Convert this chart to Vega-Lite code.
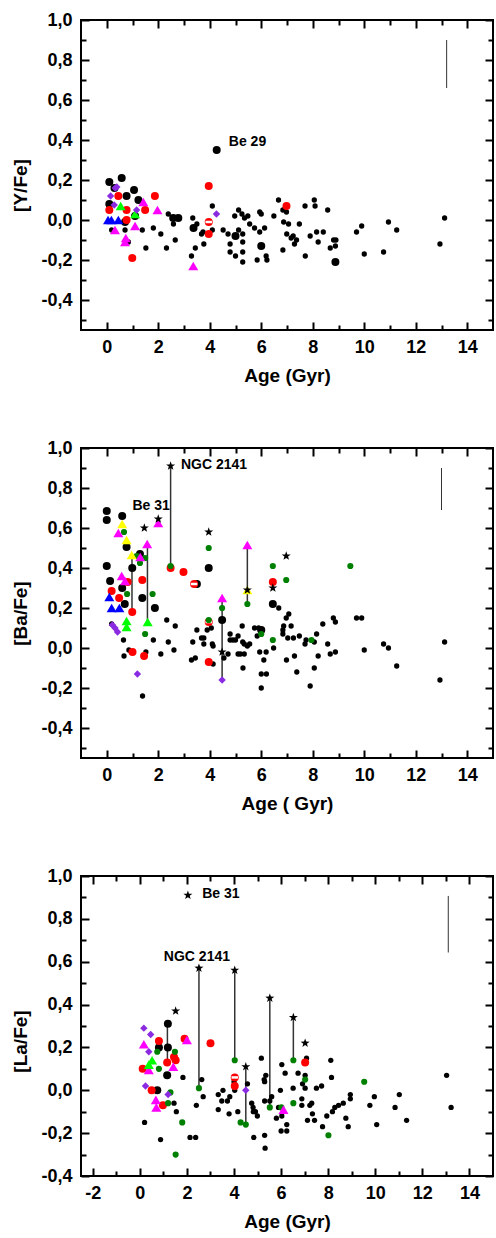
{
"$schema":"https://vega.github.io/schema/vega-lite/v6.json",
"padding":{"left":10,"top":10,"right":0,"bottom":0},
"spacing":52,
"config":{
 "view":{"stroke":"black","strokeWidth":2},
 "axis":{"labelFont":"Liberation Sans","labelFontWeight":"bold","labelFontSize":18,"labelColor":"black","titleFont":"Liberation Sans","titleFontWeight":"bold","titleFontSize":19,"titleColor":"black","domain":false,"ticks":false,"grid":true,"gridColor":"black","gridWidth":2,"gridOpacity":1,"labelOverlap":false,"labelFlush":false},
 "text":{"font":"Liberation Sans","fontWeight":"bold","fontSize":14,"align":"left","baseline":"middle","color":"black"}
},
"datasets":{
 "p1err":[{"a":13.2,"v":0.66,"v2":0.9}],
 "p1dot":[{"a":0.19,"v":-0.05},{"a":0.71,"v":-0.05},{"a":0.84,"v":-0.11},{"a":1.38,"v":-0.05},{"a":1.52,"v":-0.14},{"a":1.81,"v":-0.04},{"a":2.1,"v":-0.07},{"a":2.32,"v":-0.14},{"a":2.39,"v":0.03},{"a":2.59,"v":-0.02},{"a":2.66,"v":-0.1},{"a":3.29,"v":-0.18},{"a":3.34,"v":0.01},{"a":3.44,"v":-0.14},{"a":3.5,"v":-0.02},{"a":3.68,"v":-0.07},{"a":3.77,"v":-0.12},{"a":3.74,"v":-0.06},{"a":4.1,"v":0.07},{"a":4.1,"v":-0.05},{"a":4.52,"v":-0.05},{"a":4.71,"v":-0.07},{"a":4.79,"v":-0.12},{"a":4.79,"v":-0.16},{"a":5.0,"v":-0.18},{"a":4.97,"v":0.02},{"a":5.12,"v":0.05},{"a":5.12,"v":-0.05},{"a":5.28,"v":-0.07},{"a":5.28,"v":-0.11},{"a":5.28,"v":-0.16},{"a":5.28,"v":-0.21},{"a":5.25,"v":0.03},{"a":5.35,"v":0.01},{"a":5.48,"v":0.02},{"a":5.55,"v":-0.02},{"a":5.74,"v":-0.04},{"a":5.84,"v":-0.2},{"a":5.94,"v":0.04},{"a":6.0,"v":0.03},{"a":5.94,"v":-0.06},{"a":6.13,"v":-0.04},{"a":6.19,"v":-0.18},{"a":6.22,"v":-0.2},{"a":6.49,"v":0.02},{"a":6.67,"v":0.1},{"a":6.84,"v":0.05},{"a":6.98,"v":0.04},{"a":6.84,"v":-0.15},{"a":6.87,"v":-0.01},{"a":6.99,"v":-0.07},{"a":7.06,"v":-0.02},{"a":7.16,"v":-0.09},{"a":7.24,"v":-0.08},{"a":7.29,"v":-0.12},{"a":7.37,"v":-0.1},{"a":7.48,"v":-0.02},{"a":7.7,"v":0.07},{"a":7.71,"v":-0.18},{"a":7.9,"v":-0.08},{"a":8.06,"v":0.1},{"a":8.09,"v":0.07},{"a":8.15,"v":-0.06},{"a":8.21,"v":-0.11},{"a":8.41,"v":-0.06},{"a":8.58,"v":0.05},{"a":8.68,"v":-0.14},{"a":8.81,"v":-0.1},{"a":8.9,"v":-0.1},{"a":8.88,"v":-0.13},{"a":9.7,"v":-0.06},{"a":9.9,"v":-0.03},{"a":10.0,"v":-0.17},{"a":10.75,"v":-0.16},{"a":10.94,"v":-0.01},{"a":11.26,"v":-0.05},{"a":12.94,"v":-0.12},{"a":13.12,"v":0.01}],
 "p1big":[{"a":0.1,"v":0.19},{"a":0.58,"v":0.21},{"a":1.06,"v":0.15},{"a":0.77,"v":0.12},{"a":1.23,"v":0.1},{"a":0.1,"v":0.08},{"a":0.71,"v":-0.01},{"a":1.1,"v":0.02},{"a":2.58,"v":0.01},{"a":2.78,"v":0.01},{"a":3.37,"v":-0.04},{"a":4.27,"v":0.35},{"a":5.0,"v":-0.08},{"a":6.0,"v":-0.13},{"a":8.88,"v":-0.21},{"a":0.3,"v":0.16}],
 "p1red":[{"a":0.1,"v":0.05},{"a":0.45,"v":0.12},{"a":0.77,"v":0.05},{"a":0.77,"v":0.0},{"a":0.99,"v":-0.19},{"a":1.49,"v":0.05},{"a":1.87,"v":0.12},{"a":3.96,"v":0.17},{"a":3.96,"v":-0.07},{"a":6.98,"v":0.07},{"a":3.96,"v":-0.01}],
 "p1half":[{"a":3.96,"v":-0.01}],
 "p1mag":[{"a":0.32,"v":-0.05},{"a":0.74,"v":-0.09},{"a":0.71,"v":-0.11},{"a":1.1,"v":-0.03},{"a":1.42,"v":0.09},{"a":1.97,"v":0.05},{"a":3.36,"v":-0.23}],
 "p1blue":[{"a":0.05,"v":0.0},{"a":0.18,"v":0.0},{"a":0.45,"v":0.0}],
 "p1lg":[{"a":0.54,"v":0.07},{"a":1.1,"v":0.03}],
 "p1pur":[{"a":0.15,"v":0.12},{"a":0.33,"v":0.16},{"a":0.39,"v":0.165},{"a":0.29,"v":0.075},{"a":1.16,"v":0.05},{"a":4.26,"v":0.03}],
 "p1lab":[{"a":4.74,"v":0.39,"txt":"Be 29"}],
 "p2rule":[{"a":0.98,"v":0.465,"v2":0.18},{"a":1.58,"v":0.52,"v2":0.13},{"a":2.48,"v":0.91,"v2":0.41},{"a":4.48,"v":0.25,"v2":-0.16},{"a":5.46,"v":0.515,"v2":0.22}],
 "p2err":[{"a":13.0,"v":0.69,"v2":0.9}],
 "p2dot":[{"a":0.19,"v":0.12},{"a":0.65,"v":0.04},{"a":0.67,"v":-0.04},{"a":0.86,"v":-0.01},{"a":1.39,"v":-0.24},{"a":1.52,"v":-0.02},{"a":1.81,"v":0.04},{"a":2.1,"v":-0.03},{"a":2.33,"v":0.14},{"a":2.39,"v":0.03},{"a":2.61,"v":-0.01},{"a":2.66,"v":0.11},{"a":3.29,"v":-0.06},{"a":3.34,"v":0.03},{"a":3.44,"v":-0.05},{"a":3.5,"v":0.09},{"a":3.68,"v":0.05},{"a":3.77,"v":0.05},{"a":3.77,"v":0.02},{"a":3.9,"v":0.09},{"a":4.06,"v":0.1},{"a":4.1,"v":0.02},{"a":4.13,"v":0.01},{"a":4.13,"v":-0.08},{"a":4.55,"v":-0.05},{"a":4.71,"v":-0.03},{"a":4.79,"v":0.07},{"a":4.79,"v":0.04},{"a":4.9,"v":0.04},{"a":5.0,"v":0.04},{"a":5.1,"v":0.06},{"a":5.1,"v":-0.03},{"a":5.19,"v":-0.03},{"a":5.26,"v":0.11},{"a":5.28,"v":0.03},{"a":5.34,"v":-0.03},{"a":5.29,"v":-0.1},{"a":5.34,"v":0.02},{"a":5.46,"v":0.01},{"a":5.55,"v":0.02},{"a":5.74,"v":0.1},{"a":5.84,"v":0.06},{"a":5.9,"v":0.1},{"a":5.94,"v":-0.02},{"a":6.0,"v":-0.13},{"a":6.0,"v":-0.2},{"a":6.1,"v":-0.06},{"a":6.19,"v":-0.02},{"a":6.2,"v":-0.13},{"a":6.48,"v":0.0},{"a":6.68,"v":0.2},{"a":6.84,"v":0.07},{"a":6.84,"v":0.09},{"a":6.87,"v":0.11},{"a":6.97,"v":0.15},{"a":7.07,"v":0.17},{"a":6.98,"v":-0.06},{"a":7.03,"v":0.05},{"a":7.16,"v":0.11},{"a":7.25,"v":0.05},{"a":7.29,"v":-0.04},{"a":7.38,"v":-0.12},{"a":7.48,"v":0.06},{"a":7.7,"v":0.02},{"a":7.74,"v":0.04},{"a":7.9,"v":-0.19},{"a":8.06,"v":0.03},{"a":8.06,"v":-0.1},{"a":8.15,"v":0.07},{"a":8.21,"v":-0.04},{"a":8.39,"v":0.12},{"a":8.58,"v":0.02},{"a":8.68,"v":-0.03},{"a":8.8,"v":0.15},{"a":8.88,"v":0.13},{"a":8.88,"v":-0.02},{"a":9.7,"v":0.15},{"a":9.9,"v":0.15},{"a":10.0,"v":-0.01},{"a":10.75,"v":0.02},{"a":10.94,"v":0.0},{"a":11.26,"v":-0.09},{"a":12.94,"v":-0.16},{"a":13.12,"v":0.03}],
 "p2big":[{"a":0.0,"v":0.685},{"a":0.0,"v":0.64},{"a":0.6,"v":0.66},{"a":0.0,"v":0.41},{"a":0.13,"v":0.335},{"a":0.6,"v":0.3},{"a":0.7,"v":0.22},{"a":0.77,"v":0.505},{"a":0.99,"v":0.4},{"a":1.29,"v":0.47},{"a":1.38,"v":0.25},{"a":1.87,"v":0.2},{"a":3.5,"v":0.32},{"a":3.96,"v":0.4},{"a":4.48,"v":0.14},{"a":6.0,"v":0.09},{"a":6.45,"v":0.22}],
 "p2red":[{"a":0.19,"v":0.285},{"a":0.48,"v":0.25},{"a":0.81,"v":0.33},{"a":0.99,"v":0.18},{"a":1.0,"v":-0.02},{"a":1.38,"v":0.34},{"a":1.45,"v":-0.04},{"a":2.48,"v":0.4},{"a":2.98,"v":0.38},{"a":3.96,"v":-0.07},{"a":6.45,"v":0.33},{"a":3.39,"v":0.32},{"a":3.96,"v":0.13}],
 "p2half":[{"a":3.39,"v":0.32},{"a":3.96,"v":0.13}],
 "p2dg":[{"a":0.67,"v":0.58},{"a":0.79,"v":0.27},{"a":1.16,"v":0.46},{"a":1.29,"v":0.425},{"a":1.49,"v":0.45},{"a":1.49,"v":0.07},{"a":1.78,"v":0.27},{"a":2.48,"v":0.41},{"a":3.96,"v":0.5},{"a":3.96,"v":0.14},{"a":4.48,"v":0.2},{"a":5.46,"v":0.22},{"a":6.0,"v":0.07},{"a":6.45,"v":0.41},{"a":6.45,"v":0.04},{"a":6.97,"v":0.34},{"a":7.95,"v":0.04},{"a":9.46,"v":0.41}],
 "p2mag":[{"a":0.45,"v":0.575},{"a":0.58,"v":0.36},{"a":0.71,"v":0.335},{"a":1.3,"v":0.455},{"a":1.57,"v":0.52},{"a":2.0,"v":0.625},{"a":4.48,"v":0.25},{"a":5.46,"v":0.515}],
 "p2yel":[{"a":0.6,"v":0.62},{"a":0.77,"v":0.54},{"a":0.97,"v":0.465},{"a":5.46,"v":0.29}],
 "p2lg":[{"a":0.77,"v":0.135},{"a":0.77,"v":0.105},{"a":1.59,"v":0.13}],
 "p2blue":[{"a":0.1,"v":0.255},{"a":0.19,"v":0.2},{"a":0.49,"v":0.2}],
 "p2pur":[{"a":0.22,"v":0.115},{"a":0.32,"v":0.1},{"a":0.42,"v":0.08},{"a":1.19,"v":-0.13},{"a":4.48,"v":-0.16}],
 "p2star":[{"a":2.48,"v":0.91},{"a":1.46,"v":0.6},{"a":2.0,"v":0.645},{"a":3.96,"v":0.58},{"a":4.48,"v":-0.02},{"a":5.46,"v":0.29},{"a":6.45,"v":0.3},{"a":6.97,"v":0.46}],
 "p2lab":[{"a":2.88,"v":0.916,"txt":"NGC 2141"},{"a":1.0,"v":0.71,"txt":"Be 31"}],
 "p3rule":[{"a":1.17,"v":0.31,"v2":0.13},{"a":2.51,"v":0.57,"v2":0.01},{"a":4.03,"v":0.56,"v2":0.14},{"a":4.5,"v":0.11,"v2":-0.16},{"a":5.52,"v":0.43,"v2":-0.08},{"a":6.52,"v":0.34,"v2":0.14}],
 "p3err":[{"a":13.1,"v":0.643,"v2":0.907}],
 "p3dot":[{"a":0.2,"v":-0.15},{"a":0.88,"v":-0.23},{"a":1.45,"v":-0.06},{"a":1.55,"v":-0.1},{"a":1.83,"v":0.06},{"a":2.13,"v":-0.22},{"a":2.37,"v":-0.22},{"a":2.4,"v":-0.07},{"a":2.63,"v":0.05},{"a":2.69,"v":-0.03},{"a":3.33,"v":-0.02},{"a":3.33,"v":-0.09},{"a":3.48,"v":-0.05},{"a":3.53,"v":0.0},{"a":3.72,"v":-0.05},{"a":3.79,"v":-0.11},{"a":3.82,"v":-0.03},{"a":4.0,"v":0.04},{"a":4.03,"v":0.0},{"a":4.16,"v":-0.1},{"a":4.57,"v":0.03},{"a":4.75,"v":-0.06},{"a":4.81,"v":-0.08},{"a":4.82,"v":-0.1},{"a":4.84,"v":-0.22},{"a":4.91,"v":-0.1},{"a":4.99,"v":-0.12},{"a":5.16,"v":0.15},{"a":5.28,"v":0.05},{"a":5.3,"v":0.04},{"a":5.35,"v":0.07},{"a":5.3,"v":-0.05},{"a":5.3,"v":-0.21},{"a":5.32,"v":-0.27},{"a":5.52,"v":-0.05},{"a":5.6,"v":-0.03},{"a":5.8,"v":-0.13},{"a":5.89,"v":-0.08},{"a":5.97,"v":0.0},{"a":6.03,"v":0.12},{"a":6.03,"v":-0.12},{"a":6.0,"v":-0.19},{"a":6.17,"v":0.08},{"a":6.24,"v":-0.16},{"a":6.24,"v":-0.19},{"a":6.51,"v":0.01},{"a":6.72,"v":0.08},{"a":6.88,"v":-0.04},{"a":6.88,"v":-0.07},{"a":6.91,"v":0.03},{"a":7.02,"v":0.07},{"a":7.08,"v":0.15},{"a":7.02,"v":0.01},{"a":7.12,"v":-0.14},{"a":7.22,"v":-0.07},{"a":7.3,"v":-0.06},{"a":7.33,"v":-0.11},{"a":7.42,"v":-0.14},{"a":7.5,"v":0.01},{"a":7.72,"v":0.02},{"a":7.76,"v":-0.17},{"a":7.94,"v":-0.12},{"a":8.11,"v":0.14},{"a":8.14,"v":0.06},{"a":8.18,"v":-0.1},{"a":8.28,"v":-0.08},{"a":8.44,"v":-0.07},{"a":8.64,"v":-0.06},{"a":8.75,"v":-0.13},{"a":8.85,"v":-0.17},{"a":8.94,"v":-0.02},{"a":8.94,"v":-0.04},{"a":9.77,"v":-0.07},{"a":9.96,"v":-0.03},{"a":10.06,"v":-0.16},{"a":10.84,"v":-0.08},{"a":11.02,"v":-0.02},{"a":11.33,"v":-0.14},{"a":13.03,"v":0.07},{"a":13.22,"v":-0.08}],
 "p3big":[{"a":0.81,"v":0.2},{"a":1.19,"v":0.31},{"a":1.19,"v":0.2},{"a":1.16,"v":0.07},{"a":0.74,"v":0.0}],
 "p3red":[{"a":0.12,"v":0.1},{"a":0.5,"v":0.0},{"a":0.81,"v":0.23},{"a":0.98,"v":-0.07},{"a":1.16,"v":0.13},{"a":1.45,"v":0.155},{"a":1.52,"v":0.14},{"a":1.9,"v":0.24},{"a":3.0,"v":0.22},{"a":4.03,"v":0.02},{"a":7.02,"v":0.13},{"a":4.03,"v":0.06}],
 "p3half":[{"a":4.03,"v":0.06}],
 "p3dg":[{"a":0.74,"v":0.18},{"a":0.81,"v":0.1},{"a":1.49,"v":0.18},{"a":1.3,"v":-0.01},{"a":1.2,"v":-0.06},{"a":1.8,"v":-0.15},{"a":1.52,"v":-0.3},{"a":2.51,"v":0.01},{"a":4.03,"v":0.14},{"a":4.28,"v":-0.15},{"a":4.5,"v":-0.16},{"a":5.52,"v":-0.08},{"a":6.01,"v":-0.08},{"a":6.52,"v":0.14},{"a":6.52,"v":-0.06},{"a":7.02,"v":0.05},{"a":8.01,"v":-0.21},{"a":9.53,"v":0.04}],
 "p3mag":[{"a":0.17,"v":0.215},{"a":0.38,"v":0.095},{"a":0.68,"v":-0.045},{"a":0.7,"v":-0.08},{"a":1.42,"v":0.11},{"a":2.0,"v":0.235},{"a":6.1,"v":-0.09}],
 "p3lg":[{"a":0.38,"v":0.12},{"a":0.52,"v":0.14}],
 "p3pur":[{"a":0.17,"v":0.29},{"a":0.46,"v":0.26},{"a":0.38,"v":0.18},{"a":0.24,"v":0.02},{"a":1.2,"v":-0.02},{"a":4.5,"v":0.0}],
 "p3star":[{"a":2.04,"v":0.91},{"a":1.52,"v":0.37},{"a":2.51,"v":0.57},{"a":4.03,"v":0.56},{"a":4.5,"v":0.11},{"a":5.52,"v":0.43},{"a":6.52,"v":0.34},{"a":7.02,"v":0.22}],
 "p3lab":[{"a":2.65,"v":0.915,"txt":"Be 31"},{"a":1.02,"v":0.623,"txt":"NGC 2141"}]
},
"vconcat":[
{
 "width":412,"height":310,
 "resolve":{"axis":{"x":"independent","y":"independent"}},
 "layer":[
  {"data":{"name":"p1err"},"mark":{"type":"rule","color":"#333","strokeWidth":1},
   "encoding":{
    "x":{"field":"a","type":"quantitative","scale":{"domain":[-1,15],"nice":false,"zero":false},
     "axis":{"orient":"bottom","values":[0,1,2,3,4,5,6,7,8,9,10,11,12,13,14],"title":"Age (Gyr)","labelPadding":8,"titlePadding":10,
      "gridDash":{"condition":{"test":"abs(round(datum.value)) % 2 == 1","value":[5,300,5]},"value":[8,294,8]},
      "labelExpr":"abs(round(datum.value)) % 2 == 1 ? '' : format(datum.value,'d')"}},
    "y":{"field":"v","type":"quantitative","scale":{"domain":[-0.55,1],"nice":false,"zero":false},
     "axis":{"orient":"left","values":[-0.5,-0.4,-0.3,-0.2,-0.1,0,0.1,0.2,0.3,0.4,0.5,0.6,0.7,0.8,0.9,1.0],"title":"[Y/Fe]","labelPadding":9,"titlePadding":10,"titleY":165,
      "gridDash":{"condition":{"test":"abs(round(datum.value*10)) % 2 == 1","value":[5,402,5]},"value":[8,396,8]},
      "labelExpr":"abs(round(datum.value*10)) % 2 == 1 ? '' : replace(replace(format(datum.value,'.1f'),'.',','),'−','-')"}},
    "y2":{"field":"v2"}}},
  {"data":{"name":"p1dot"},"mark":{"type":"point","filled":true,"opacity":1,"shape":"circle","color":"black","size":28},"encoding":{"x":{"field":"a","type":"quantitative","axis":null},"y":{"field":"v","type":"quantitative","axis":null}}},
  {"data":{"name":"p1big"},"mark":{"type":"point","filled":true,"opacity":1,"shape":"circle","color":"black","size":64},"encoding":{"x":{"field":"a","type":"quantitative","axis":null},"y":{"field":"v","type":"quantitative","axis":null}}},
  {"data":{"name":"p1red"},"mark":{"type":"point","filled":true,"opacity":1,"shape":"circle","color":"#FF0000","size":64},"encoding":{"x":{"field":"a","type":"quantitative","axis":null},"y":{"field":"v","type":"quantitative","axis":null}}},
  {"data":{"name":"p1half"},"mark":{"type":"point","filled":false,"opacity":1,"shape":"stroke","color":"white","strokeWidth":2.5,"size":42},"encoding":{"x":{"field":"a","type":"quantitative","axis":null},"y":{"field":"v","type":"quantitative","axis":null}}},
  {"data":{"name":"p1mag"},"mark":{"type":"point","filled":true,"opacity":1,"shape":"triangle-up","color":"#FF00FF","size":100},"encoding":{"x":{"field":"a","type":"quantitative","axis":null},"y":{"field":"v","type":"quantitative","axis":null}}},
  {"data":{"name":"p1blue"},"mark":{"type":"point","filled":true,"opacity":1,"shape":"triangle-up","color":"#0000FF","size":100},"encoding":{"x":{"field":"a","type":"quantitative","axis":null},"y":{"field":"v","type":"quantitative","axis":null}}},
  {"data":{"name":"p1lg"},"mark":{"type":"point","filled":true,"opacity":1,"shape":"triangle-up","color":"#00FF00","size":100},"encoding":{"x":{"field":"a","type":"quantitative","axis":null},"y":{"field":"v","type":"quantitative","axis":null}}},
  {"data":{"name":"p1pur"},"mark":{"type":"point","filled":true,"opacity":1,"shape":"diamond","color":"#8A2BE2","size":55},"encoding":{"x":{"field":"a","type":"quantitative","axis":null},"y":{"field":"v","type":"quantitative","axis":null}}},
  {"data":{"name":"p1lab"},"mark":{"type":"text"},"encoding":{"x":{"field":"a","type":"quantitative","axis":null},"y":{"field":"v","type":"quantitative","axis":null},"text":{"field":"txt"}}}
 ]
},
{
 "width":412,"height":310,
 "resolve":{"axis":{"x":"independent","y":"independent"}},
 "layer":[
  {"data":{"name":"p2err"},"mark":{"type":"rule","color":"#333","strokeWidth":1},
   "encoding":{
    "x":{"field":"a","type":"quantitative","scale":{"domain":[-1,15],"nice":false,"zero":false},
     "axis":{"orient":"bottom","values":[0,1,2,3,4,5,6,7,8,9,10,11,12,13,14],"title":"Age ( Gyr)","labelPadding":8,"titlePadding":10,
      "gridDash":{"condition":{"test":"abs(round(datum.value)) % 2 == 1","value":[5,300,5]},"value":[8,294,8]},
      "labelExpr":"abs(round(datum.value)) % 2 == 1 ? '' : format(datum.value,'d')"}},
    "y":{"field":"v","type":"quantitative","scale":{"domain":[-0.55,1],"nice":false,"zero":false},
     "axis":{"orient":"left","values":[-0.5,-0.4,-0.3,-0.2,-0.1,0,0.1,0.2,0.3,0.4,0.5,0.6,0.7,0.8,0.9,1.0],"title":"[Ba/Fe]","labelPadding":9,"titlePadding":10,"titleY":165,
      "gridDash":{"condition":{"test":"abs(round(datum.value*10)) % 2 == 1","value":[5,402,5]},"value":[8,396,8]},
      "labelExpr":"abs(round(datum.value*10)) % 2 == 1 ? '' : replace(replace(format(datum.value,'.1f'),'.',','),'−','-')"}},
    "y2":{"field":"v2"}}},
  {"data":{"name":"p2rule"},"mark":{"type":"rule","color":"#333","strokeWidth":1.5},"encoding":{"x":{"field":"a","type":"quantitative","axis":null},"y":{"field":"v","type":"quantitative","axis":null},"y2":{"field":"v2"}}},
  {"data":{"name":"p2dot"},"mark":{"type":"point","filled":true,"opacity":1,"shape":"circle","color":"black","size":28},"encoding":{"x":{"field":"a","type":"quantitative","axis":null},"y":{"field":"v","type":"quantitative","axis":null}}},
  {"data":{"name":"p2big"},"mark":{"type":"point","filled":true,"opacity":1,"shape":"circle","color":"black","size":64},"encoding":{"x":{"field":"a","type":"quantitative","axis":null},"y":{"field":"v","type":"quantitative","axis":null}}},
  {"data":{"name":"p2red"},"mark":{"type":"point","filled":true,"opacity":1,"shape":"circle","color":"#FF0000","size":64},"encoding":{"x":{"field":"a","type":"quantitative","axis":null},"y":{"field":"v","type":"quantitative","axis":null}}},
  {"data":{"name":"p2half"},"mark":{"type":"point","filled":false,"opacity":1,"shape":"stroke","color":"white","strokeWidth":2.5,"size":42},"encoding":{"x":{"field":"a","type":"quantitative","axis":null},"y":{"field":"v","type":"quantitative","axis":null}}},
  {"data":{"name":"p2dg"},"mark":{"type":"point","filled":true,"opacity":1,"shape":"circle","color":"#008000","size":38},"encoding":{"x":{"field":"a","type":"quantitative","axis":null},"y":{"field":"v","type":"quantitative","axis":null}}},
  {"data":{"name":"p2mag"},"mark":{"type":"point","filled":true,"opacity":1,"shape":"triangle-up","color":"#FF00FF","size":100},"encoding":{"x":{"field":"a","type":"quantitative","axis":null},"y":{"field":"v","type":"quantitative","axis":null}}},
  {"data":{"name":"p2yel"},"mark":{"type":"point","filled":true,"opacity":1,"shape":"triangle-up","color":"#FFFF00","size":100},"encoding":{"x":{"field":"a","type":"quantitative","axis":null},"y":{"field":"v","type":"quantitative","axis":null}}},
  {"data":{"name":"p2lg"},"mark":{"type":"point","filled":true,"opacity":1,"shape":"triangle-up","color":"#00FF00","size":100},"encoding":{"x":{"field":"a","type":"quantitative","axis":null},"y":{"field":"v","type":"quantitative","axis":null}}},
  {"data":{"name":"p2blue"},"mark":{"type":"point","filled":true,"opacity":1,"shape":"triangle-up","color":"#0000FF","size":100},"encoding":{"x":{"field":"a","type":"quantitative","axis":null},"y":{"field":"v","type":"quantitative","axis":null}}},
  {"data":{"name":"p2pur"},"mark":{"type":"point","filled":true,"opacity":1,"shape":"diamond","color":"#8A2BE2","size":55},"encoding":{"x":{"field":"a","type":"quantitative","axis":null},"y":{"field":"v","type":"quantitative","axis":null}}},
  {"data":{"name":"p2star"},"mark":{"type":"point","filled":true,"opacity":1,"shape":"M0,-1L0.235,-0.324L0.951,-0.309L0.38,0.124L0.588,0.809L0,0.4L-0.588,0.809L-0.38,0.124L-0.951,-0.309L-0.235,-0.324Z","color":"black","size":90},"encoding":{"x":{"field":"a","type":"quantitative","axis":null},"y":{"field":"v","type":"quantitative","axis":null}}},
  {"data":{"name":"p2lab"},"mark":{"type":"text"},"encoding":{"x":{"field":"a","type":"quantitative","axis":null},"y":{"field":"v","type":"quantitative","axis":null},"text":{"field":"txt"}}}
 ]
},
{
 "width":412,"height":300,
 "resolve":{"axis":{"x":"independent","y":"independent"}},
 "layer":[
  {"data":{"name":"p3err"},"mark":{"type":"rule","color":"#333","strokeWidth":1},
   "encoding":{
    "x":{"field":"a","type":"quantitative","scale":{"domain":[-2.5,15],"nice":false,"zero":false},
     "axis":{"orient":"bottom","values":[-2,-1,0,1,2,3,4,5,6,7,8,9,10,11,12,13,14],"title":"Age (Gyr)","labelPadding":8,"titlePadding":10,
      "gridDash":{"condition":{"test":"abs(round(datum.value)) % 2 == 1","value":[5,290,5]},"value":[8,284,8]},
      "labelExpr":"abs(round(datum.value)) % 2 == 1 ? '' : replace(format(datum.value,'d'),'−','-')"}},
    "y":{"field":"v","type":"quantitative","scale":{"domain":[-0.4,1],"nice":false,"zero":false},
     "axis":{"orient":"left","values":[-0.4,-0.3,-0.2,-0.1,0,0.1,0.2,0.3,0.4,0.5,0.6,0.7,0.8,0.9,1.0],"title":"[La/Fe]","labelPadding":9,"titlePadding":10,"titleY":165,
      "gridDash":{"condition":{"test":"abs(round(datum.value*10)) % 2 == 1","value":[5,402,5]},"value":[8,396,8]},
      "labelExpr":"abs(round(datum.value*10)) % 2 == 1 ? '' : replace(replace(format(datum.value,'.1f'),'.',','),'−','-')"}},
    "y2":{"field":"v2"}}},
  {"data":{"name":"p3rule"},"mark":{"type":"rule","color":"#333","strokeWidth":1.5},"encoding":{"x":{"field":"a","type":"quantitative","axis":null},"y":{"field":"v","type":"quantitative","axis":null},"y2":{"field":"v2"}}},
  {"data":{"name":"p3dot"},"mark":{"type":"point","filled":true,"opacity":1,"shape":"circle","color":"black","size":28},"encoding":{"x":{"field":"a","type":"quantitative","axis":null},"y":{"field":"v","type":"quantitative","axis":null}}},
  {"data":{"name":"p3big"},"mark":{"type":"point","filled":true,"opacity":1,"shape":"circle","color":"black","size":64},"encoding":{"x":{"field":"a","type":"quantitative","axis":null},"y":{"field":"v","type":"quantitative","axis":null}}},
  {"data":{"name":"p3red"},"mark":{"type":"point","filled":true,"opacity":1,"shape":"circle","color":"#FF0000","size":64},"encoding":{"x":{"field":"a","type":"quantitative","axis":null},"y":{"field":"v","type":"quantitative","axis":null}}},
  {"data":{"name":"p3half"},"mark":{"type":"point","filled":false,"opacity":1,"shape":"stroke","color":"white","strokeWidth":2.5,"size":42},"encoding":{"x":{"field":"a","type":"quantitative","axis":null},"y":{"field":"v","type":"quantitative","axis":null}}},
  {"data":{"name":"p3dg"},"mark":{"type":"point","filled":true,"opacity":1,"shape":"circle","color":"#008000","size":38},"encoding":{"x":{"field":"a","type":"quantitative","axis":null},"y":{"field":"v","type":"quantitative","axis":null}}},
  {"data":{"name":"p3mag"},"mark":{"type":"point","filled":true,"opacity":1,"shape":"triangle-up","color":"#FF00FF","size":100},"encoding":{"x":{"field":"a","type":"quantitative","axis":null},"y":{"field":"v","type":"quantitative","axis":null}}},
  {"data":{"name":"p3lg"},"mark":{"type":"point","filled":true,"opacity":1,"shape":"triangle-up","color":"#00FF00","size":100},"encoding":{"x":{"field":"a","type":"quantitative","axis":null},"y":{"field":"v","type":"quantitative","axis":null}}},
  {"data":{"name":"p3pur"},"mark":{"type":"point","filled":true,"opacity":1,"shape":"diamond","color":"#8A2BE2","size":55},"encoding":{"x":{"field":"a","type":"quantitative","axis":null},"y":{"field":"v","type":"quantitative","axis":null}}},
  {"data":{"name":"p3star"},"mark":{"type":"point","filled":true,"opacity":1,"shape":"M0,-1L0.235,-0.324L0.951,-0.309L0.38,0.124L0.588,0.809L0,0.4L-0.588,0.809L-0.38,0.124L-0.951,-0.309L-0.235,-0.324Z","color":"black","size":90},"encoding":{"x":{"field":"a","type":"quantitative","axis":null},"y":{"field":"v","type":"quantitative","axis":null}}},
  {"data":{"name":"p3lab"},"mark":{"type":"text"},"encoding":{"x":{"field":"a","type":"quantitative","axis":null},"y":{"field":"v","type":"quantitative","axis":null},"text":{"field":"txt"}}}
 ]
}
]
}
